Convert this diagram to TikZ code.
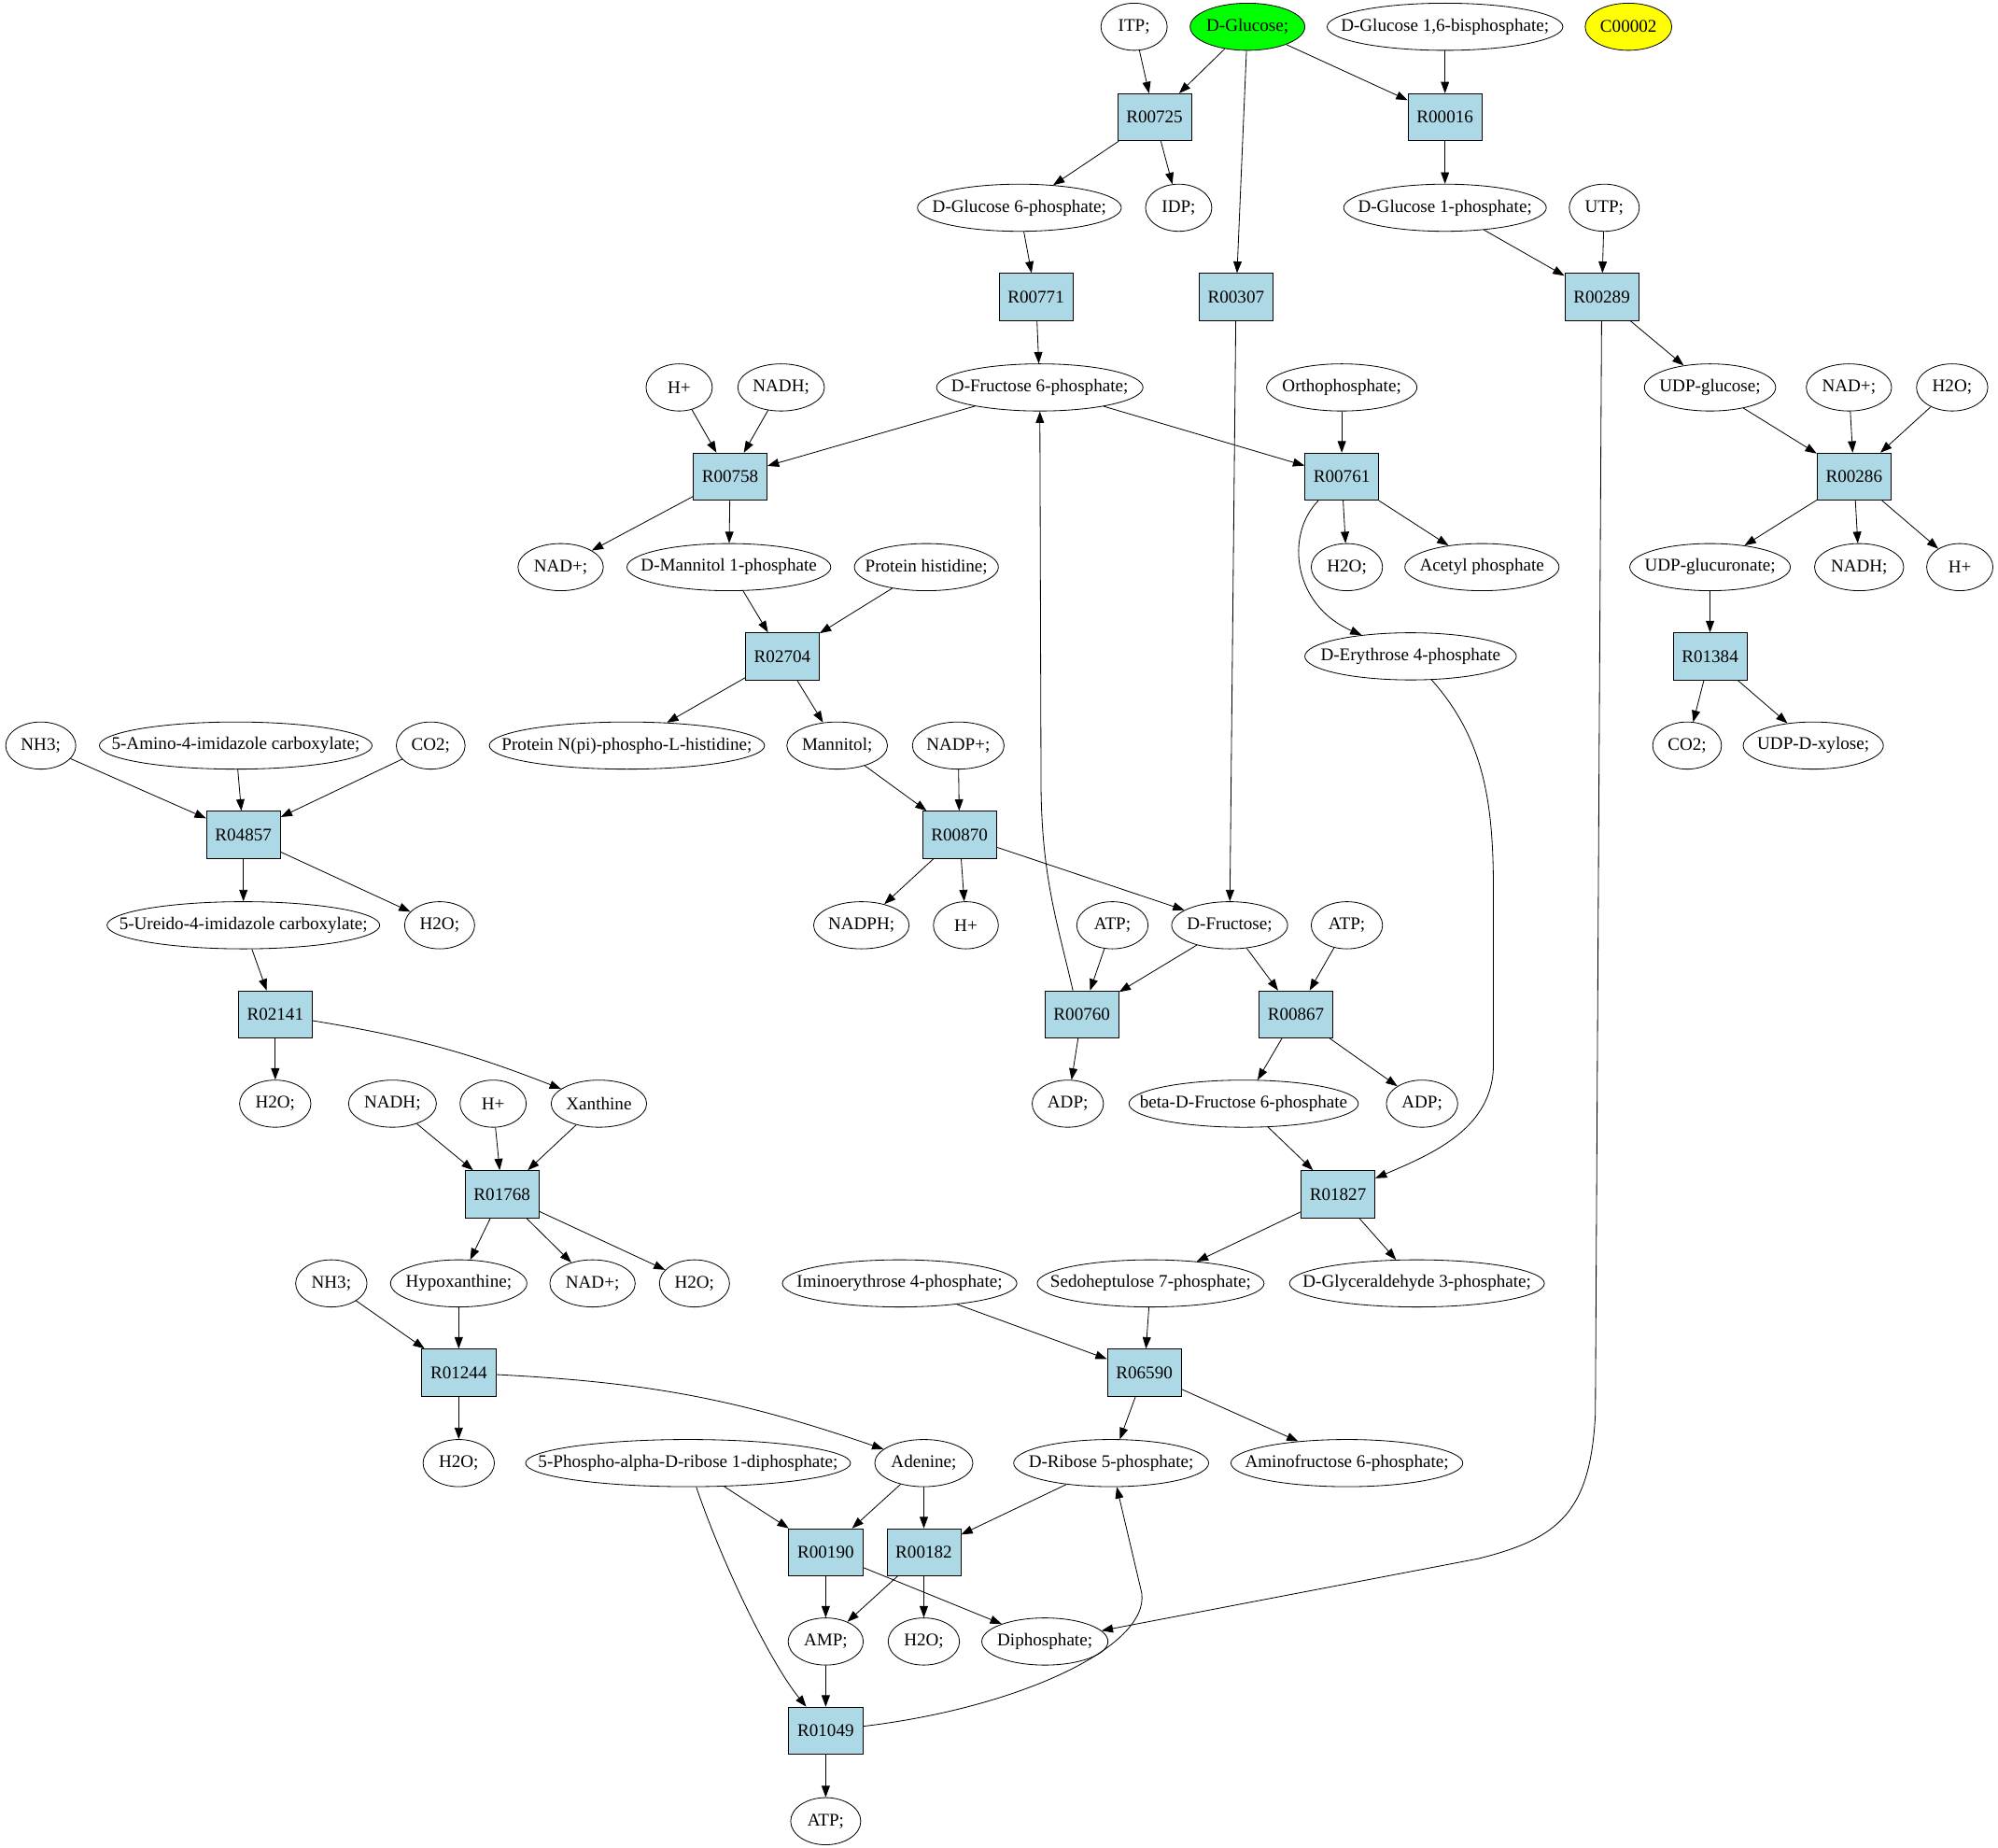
\documentclass[tikz,border=0pt]{standalone}
\usepackage{fontspec}
\setmainfont{Liberation Serif}
\usetikzlibrary{shapes.geometric,arrows.meta}
\definecolor{lightblue}{HTML}{ADD8E6}
\definecolor{glcgreen}{HTML}{00FF00}
\definecolor{cpdyellow}{HTML}{FFFF00}

\begin{document}
\begin{tikzpicture}[x=1pt,y=-1pt,>={Triangle[length=9pt,width=6.5pt]},line width=0.6pt,
	every node/.style={font=\fontsize{14}{16}\selectfont},
	met/.style={ellipse,draw,inner sep=-60pt,minimum height=37,minimum width=#1},met/.default=54,
	rxn/.style={rectangle,draw,fill=lightblue,minimum width=58,minimum height=37,inner sep=0pt}]
	\useasboundingbox (0,0) rectangle (1568,1450);

	\node[met=52] (itp) at (890,21) {ITP;};
	\node[met=90,fill=glcgreen] (glc) at (979,21) {D-Glucose;};
	\node[met=185] (g16bp) at (1134,21) {D-Glucose 1,6-bisphosphate;};
	\node[met=68,fill=cpdyellow] (c00002) at (1278,21) {C00002};

	\node[rxn] (r00725) at (906,92) {R00725};
	\node[rxn] (r00016) at (1134,92) {R00016};

	\node[met=160] (g6p) at (800,163) {D-Glucose 6-phosphate;};
	\node[met=52] (idp) at (925,163) {IDP;};
	\node[met=159] (g1p) at (1134,163) {D-Glucose 1-phosphate;};
	\node[met=55] (utp) at (1259,163) {UTP;};

	\node[rxn] (r00771) at (813,233) {R00771};
	\node[rxn] (r00307) at (970,233) {R00307};
	\node[rxn] (r00289) at (1257,233) {R00289};

	\node[met=52] (h_a) at (533,304) {H+};
	\node[met=68] (nadh_a) at (613,304) {NADH;};
	\node[met=162] (f6p) at (816,304) {D-Fructose 6-phosphate;};
	\node[met=118] (ortho) at (1053,304) {Orthophosphate;};
	\node[met=103] (udpglc) at (1342,304) {UDP-glucose;};
	\node[met=67] (nad_a) at (1451,304) {NAD+;};
	\node[met=56] (h2o_a) at (1532,304) {H2O;};

	\node[rxn] (r00758) at (573,374) {R00758};
	\node[rxn] (r00761) at (1053,374) {R00761};
	\node[rxn] (r00286) at (1455,374) {R00286};

	\node[met=67] (nad_b) at (440,445) {NAD+;};
	\node[met=160] (mtl1p) at (572,445) {D-Mannitol 1-phosphate};
	\node[met=113] (prothis) at (727,445) {Protein histidine;};
	\node[met=56] (h2o_b) at (1057,445) {H2O;};
	\node[met=121] (acp) at (1163,445) {Acetyl phosphate};
	\node[met=126] (udpgla) at (1342,445) {UDP-glucuronate;};
	\node[met=70] (nadh_b) at (1459,445) {NADH;};
	\node[met=52] (h_b) at (1538,445) {H+};

	\node[rxn] (r02704) at (614,515) {R02704};
	\node[met=166] (e4p) at (1107,515) {D-Erythrose 4-phosphate};
	\node[rxn] (r01384) at (1342,515) {R01384};

	\node[met=55] (nh3_a) at (32,585) {NH3;};
	\node[met=214] (amino) at (185,585) {5-Amino-4-imidazole carboxylate;};
	\node[met=54] (co2_a) at (338,585) {CO2;};
	\node[met=216] (prothisp) at (492,585) {Protein N(pi)-phospho-L-histidine;};
	\node[met=79] (mtl) at (657,585) {Mannitol;};
	\node[met=72] (nadp) at (752,585) {NADP+;};
	\node[met=54] (co2_b) at (1324,585) {CO2;};
	\node[met=110] (udpxyl) at (1423,585) {UDP-D-xylose;};

	\node[rxn] (r04857) at (191,655) {R04857};
	\node[rxn] (r00870) at (753,655) {R00870};

	\node[met=214] (ureido) at (191,726) {5-Ureido-4-imidazole carboxylate;};
	\node[met=55] (h2o_c) at (345,726) {H2O;};
	\node[met=75] (nadph) at (676,726) {NADPH;};
	\node[met=51] (h_c) at (758,726) {H+};
	\node[met=56] (atp_a) at (873,726) {ATP;};
	\node[met=91] (fru) at (965,726) {D-Fructose;};
	\node[met=56] (atp_b) at (1057,726) {ATP;};

	\node[rxn] (r02141) at (216,796) {R02141};
	\node[rxn] (r00760) at (849,796) {R00760};
	\node[rxn] (r00867) at (1017,796) {R00867};

	\node[met=56] (h2o_d) at (216,866) {H2O;};
	\node[met=69] (nadh_c) at (308,866) {NADH;};
	\node[met=52] (h_d) at (387,866) {H+};
	\node[met=75] (xan) at (470,866) {Xanthine};
	\node[met=56] (adp_a) at (838,866) {ADP;};
	\node[met=180] (bf6p) at (976,866) {beta-D-Fructose 6-phosphate};
	\node[met=56] (adp_b) at (1116,866) {ADP;};

	\node[rxn] (r01768) at (394,937) {R01768};
	\node[rxn] (r01827) at (1050,937) {R01827};

	\node[met=56] (nh3_b) at (260,1007) {NH3;};
	\node[met=107] (hyp) at (360,1007) {Hypoxanthine;};
	\node[met=67] (nad_c) at (465,1007) {NAD+;};
	\node[met=55] (h2o_e) at (545,1007) {H2O;};
	\node[met=184] (imino) at (706,1007) {Iminoerythrose 4-phosphate;};
	\node[met=178] (s7p) at (903,1007) {Sedoheptulose 7-phosphate;};
	\node[met=200] (ga3p) at (1112,1007) {D-Glyceraldehyde 3-phosphate;};

	\node[rxn] (r01244) at (360,1077) {R01244};
	\node[rxn] (r06590) at (898,1077) {R06590};

	\node[met=56] (h2o_f) at (360,1148) {H2O;};
	\node[met=255] (prpp) at (540,1148) {5-Phospho-alpha-D-ribose 1-diphosphate;};
	\node[met=77] (ade) at (725,1148) {Adenine;};
	\node[met=153] (r5p) at (872,1148) {D-Ribose 5-phosphate;};
	\node[met=182] (amf6p) at (1057,1148) {Aminofructose 6-phosphate;};

	\node[rxn] (r00190) at (648,1218) {R00190};
	\node[rxn] (r00182) at (725,1218) {R00182};

	\node[met=59] (amp) at (648,1288) {AMP;};
	\node[met=56] (h2o_g) at (725,1288) {H2O;};
	\node[met=99] (ppi) at (820,1288) {Diphosphate;};

	\node[rxn] (r01049) at (648,1358) {R01049};
	\node[met=55] (atp_c) at (648,1429) {ATP;};

	\path[->]
	(itp) edge (r00725)
	(glc) edge (r00725)
	(glc) edge (r00307)
	(glc) edge (r00016)
	(g16bp) edge (r00016)
	(r00725) edge (g6p)
	(r00725) edge (idp)
	(r00016) edge (g1p)
	(g6p) edge (r00771)
	(g1p) edge (r00289)
	(utp) edge (r00289)
	(r00771) edge (f6p)
	(r00307) edge (fru)
	(r00289) edge (udpglc)
	(h_a) edge (r00758)
	(nadh_a) edge (r00758)
	(f6p) edge (r00758)
	(f6p) edge (r00761)
	(ortho) edge (r00761)
	(udpglc) edge (r00286)
	(nad_a) edge (r00286)
	(h2o_a) edge (r00286)
	(r00758) edge (nad_b)
	(r00758) edge (mtl1p)
	(r00761) edge (h2o_b)
	(r00761) edge (acp)
	(r00286) edge (udpgla)
	(r00286) edge (nadh_b)
	(r00286) edge (h_b)
	(mtl1p) edge (r02704)
	(prothis) edge (r02704)
	(r02704) edge (prothisp)
	(r02704) edge (mtl)
	(udpgla) edge (r01384)
	(r01384) edge (co2_b)
	(r01384) edge (udpxyl)
	(nh3_a) edge (r04857)
	(amino) edge (r04857)
	(co2_a) edge (r04857)
	(r04857) edge (ureido)
	(r04857) edge (h2o_c)
	(mtl) edge (r00870)
	(nadp) edge (r00870)
	(r00870) edge (nadph)
	(r00870) edge (h_c)
	(r00870) edge (fru)
	(ureido) edge (r02141)
	(r02141) edge (h2o_d)
	(r02141) edge[bend left=6] (xan)
	(atp_a) edge (r00760)
	(fru) edge (r00760)
	(r00760) edge (adp_a)
	(fru) edge (r00867)
	(atp_b) edge (r00867)
	(r00867) edge (bf6p)
	(r00867) edge (adp_b)
	(nadh_c) edge (r01768)
	(h_d) edge (r01768)
	(xan) edge (r01768)
	(bf6p) edge (r01827)
	(r01768) edge (hyp)
	(r01768) edge (nad_c)
	(r01768) edge (h2o_e)
	(r01827) edge (s7p)
	(r01827) edge (ga3p)
	(nh3_b) edge (r01244)
	(hyp) edge (r01244)
	(imino) edge (r06590)
	(s7p) edge (r06590)
	(r01244) edge (h2o_f)
	(r01244) edge[bend left=8] (ade)
	(r06590) edge (r5p)
	(r06590) edge (amf6p)
	(prpp) edge (r00190)
	(ade) edge (r00190)
	(ade) edge (r00182)
	(r5p) edge (r00182)
	(r00190) edge (amp)
	(r00190) edge (ppi)
	(r00182) edge (amp)
	(r00182) edge (h2o_g)
	(amp) edge (r01049)
	(r01049) edge (atp_c)
	;
	\draw[->] (r00761) .. controls (1008,420) and (1015,475) .. (e4p);
	\draw[->] (e4p) .. controls (1165,580) and (1172,630) .. (1172,700) -- (1172,835) .. controls (1172,885) and (1125,905) .. (r01827);
	\draw[->] ([xshift=-7]r00760.north) .. controls (830,725) and (818,690) .. (817,620) -- (f6p);
	\draw[->] (r00289) -- (1252,1110) .. controls (1248,1185) and (1225,1207) .. (1160,1223) -- (ppi);
	\draw[->] (prpp) .. controls (568,1230) and (605,1305) .. (r01049);
	\draw[->] (r01049) .. controls (800,1340) and (902,1292) .. (896,1250) -- (r5p);
\end{tikzpicture}
\end{document}
